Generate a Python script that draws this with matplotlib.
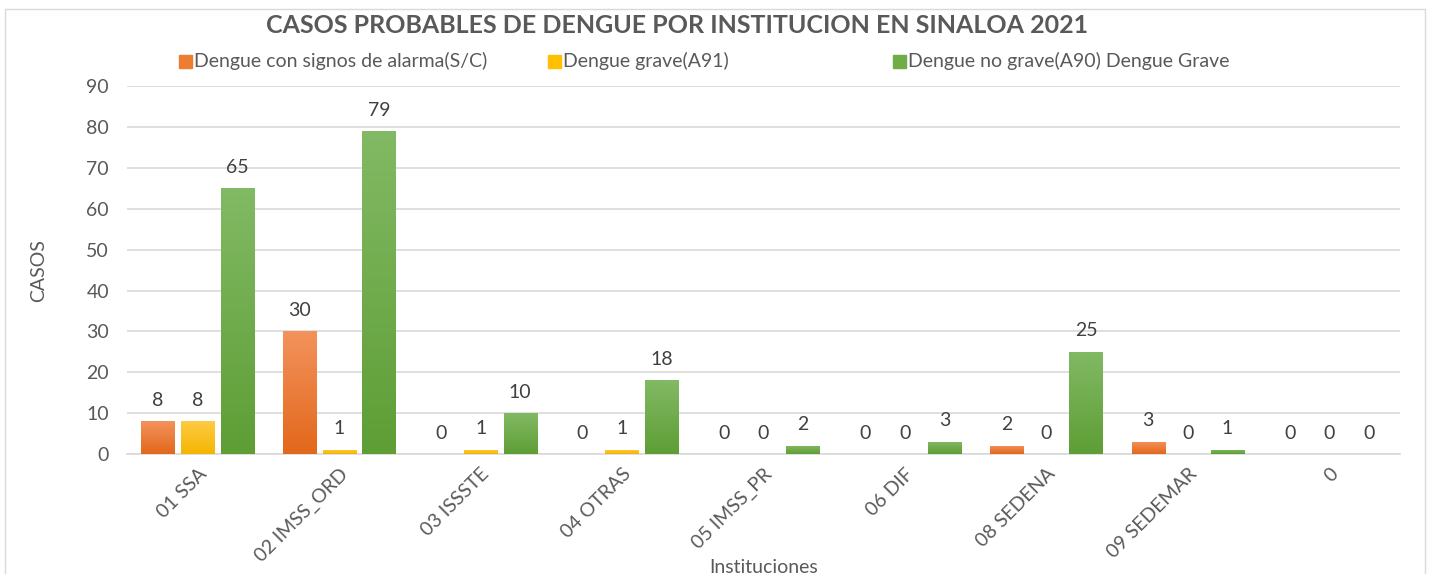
"""
Casos probables de dengue por institucion en Sinaloa 2021.
"""

import numpy as np
import matplotlib
matplotlib.use("Agg")
import matplotlib.pyplot as plt
from matplotlib.colors import LinearSegmentedColormap
from matplotlib.patches import Rectangle

FIG_PATH = "out.png"

instituciones = ["01 SSA", "02 IMSS_ORD", "03 ISSSTE", "04 OTRAS", "05 IMSS_PR",
                 "06 DIF", "08 SEDENA", "09 SEDEMAR", "0"]
con_alarma = [8, 30, 0, 0, 0, 0, 2, 3, 0]
grave = [8, 1, 1, 1, 0, 0, 0, 0, 0]
no_grave = [65, 79, 10, 18, 2, 3, 25, 1, 0]

series = [
    ("Dengue con signos de alarma(S/C)", con_alarma, "#F3925C", "#E2681B", "#ED7D31"),
    ("Dengue grave(A91)", grave, "#FFCA45", "#F3B600", "#FFC000"),
    ("Dengue no grave(A90) Dengue Grave", no_grave, "#82B964", "#5E9E35", "#70AD47"),
]

TXT = "#595959"
FONT = ["Lato", "DejaVu Sans"]


def main() -> None:
    plt.rcParams["font.family"] = FONT
    fig = plt.figure(figsize=(14.33, 5.74), dpi=100)
    ax = fig.add_axes([0.0886, 0.209, 0.8884, 0.641])

    x = np.arange(len(instituciones))
    step = 0.28
    width = 0.235
    for i, (name, vals, top, bottom, flat) in enumerate(series):
        cmap = LinearSegmentedColormap.from_list(name, [bottom, top])
        grad = np.linspace(0, 1, 64).reshape(-1, 1)
        bars = ax.bar(x + (i - 1) * step, vals, width, color=flat, zorder=3)
        for b, v in zip(bars, vals):
            if v > 0:
                im = ax.imshow(grad, cmap=cmap, origin="lower", aspect="auto",
                               extent=[b.get_x(), b.get_x() + width, 0, v], zorder=4)
                im.set_clip_path(b)
            ax.annotate(str(v), (b.get_x() + width / 2, v), xytext=(0, 9),
                        textcoords="offset points", ha="center", va="bottom",
                        fontsize=14, color="#404040")

    ax.set_xlim(-0.5, len(instituciones) - 0.5)
    ax.set_ylim(0, 90)
    ax.set_yticks(range(0, 91, 10))
    ax.yaxis.grid(True, color="#D9D9D9", linewidth=1.2, zorder=0)
    ax.set_axisbelow(True)
    for s in ["top", "right", "left"]:
        ax.spines[s].set_visible(False)
    ax.spines["bottom"].set_color("#D9D9D9")
    ax.spines["bottom"].set_linewidth(1.2)
    ax.tick_params(axis="both", length=0, labelsize=14, labelcolor=TXT)
    ax.tick_params(axis="y", pad=13)
    ax.set_xticks(x)
    ax.set_xticklabels(instituciones, rotation=45, ha="right", rotation_mode="anchor")
    ax.tick_params(axis="x", pad=8)
    ax.set_xlabel("Instituciones", fontsize=14, color=TXT, labelpad=-4)
    ax.set_ylabel("CASOS", fontsize=14, color=TXT, labelpad=28)

    fig.text(0.4722, 0.956, "CASOS PROBABLES DE DENGUE POR INSTITUCION EN SINALOA 2021",
             ha="center", va="center", fontsize=18, fontweight="bold", color=TXT)

    # legend, placed by hand like the Excel one
    legend_x = [179, 548, 893]
    for (name, _, _, _, flat), lx in zip(series, legend_x):
        fig.patches.append(Rectangle((lx / 1433, 1 - 68 / 574), 13 / 1433, 13 / 574,
                                     transform=fig.transFigure, color=flat))
        fig.text((lx + 15) / 1433, 1 - 61 / 574, name, ha="left", va="center",
                 fontsize=14, color=TXT)

    fig.patches.append(Rectangle((5 / 1433, -0.05), 1420 / 1433, 1.035,
                                 transform=fig.transFigure, fill=False,
                                 edgecolor="#D9D9D9", linewidth=1))

    fig.savefig(FIG_PATH, dpi=100)
    plt.close(fig)


if __name__ == "__main__":
    main()
